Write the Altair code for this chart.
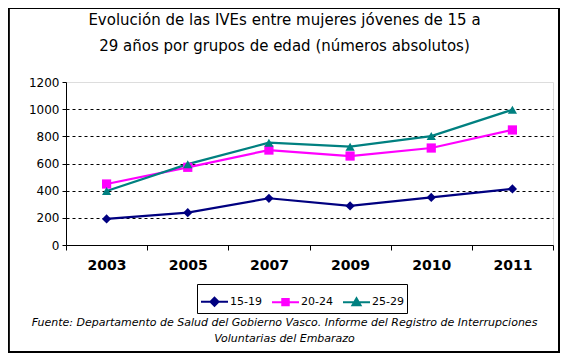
import altair as alt
import pandas as pd

years = ["2003", "2005", "2007", "2009", "2010", "2011"]
groups = ["15-19", "20-24", "25-29"]
v_15_19 = [192, 238, 344, 288, 350, 413]
v_20_24 = [449, 572, 699, 655, 714, 847]
v_25_29 = [398, 595, 753, 724, 802, 996]
colors = ["#000080", "#FF00FF", "#008080"]
shapes = ["diamond", "square", "triangle-up"]
y_ticks = [0, 200, 400, 600, 800, 1000, 1200]

title_lines = ["Evolución de las IVEs entre mujeres jóvenes de 15 a",
               "29 años por grupos de edad (números absolutos)"]
source_lines = ["Fuente: Departamento de Salud del Gobierno Vasco. Informe del Registro de Interrupciones",
                "Voluntarias del Embarazo"]

rows = []
for i, (g, vals) in enumerate(zip(groups, [v_15_19, v_20_24, v_25_29])):
    for yr, v in zip(years, vals):
        rows.append({"Año": yr, "Grupo": g, "Serie": i, "IVEs": v})
df = pd.DataFrame(rows)

legend_paths = [
    "M-1,0L1,0M0,-0.3L0.3,0L0,0.3L-0.3,0Z",
    "M-1,0L1,0M-0.24,-0.24L0.24,-0.24L0.24,0.24L-0.24,0.24Z",
    "M-1,0L1,0M0,-0.28L0.3,0.24L-0.3,0.24Z",
]
shape_expr = (f"datum.value === '{groups[0]}' ? '{legend_paths[0]}' : "
              f"datum.value === '{groups[1]}' ? '{legend_paths[1]}' : '{legend_paths[2]}'")
fill_expr = (f"datum.value === '{groups[0]}' ? '{colors[0]}' : "
             f"datum.value === '{groups[1]}' ? '{colors[1]}' : '{colors[2]}'")

legend = alt.Legend(
    title=None, orient="none", direction="horizontal", legendX=131, legendY=202,
    strokeColor="black", fillColor="white", padding=3, columnPadding=6,
    labelFont="DejaVu Sans", labelFontSize=11, labelColor="black", labelOffset=1,
    symbolSize=729, symbolStrokeWidth=2, symbolOpacity=1,
    symbolType=alt.ExprRef(shape_expr),
    symbolFillColor=alt.ExprRef(fill_expr),
)

x_enc = alt.X("Año:O", sort=years,
              scale=alt.Scale(type="band", paddingInner=0, paddingOuter=0),
              axis=alt.Axis(tickBand="extent", labelAngle=0, labelFont="DejaVu Sans",
                            labelFontSize=14, labelFontWeight="bold", labelColor="black",
                            labelPadding=8, domainColor="black", tickColor="black",
                            tickSize=5, grid=False,
                            title=source_lines, titleFont="DejaVu Sans", titleFontSize=11,
                            titleFontStyle="italic", titleFontWeight="normal",
                            titleColor="black", titleX=218, titleY=80,
                            titleAlign="center", titleBaseline="alphabetic",
                            titleLineHeight=16))
y_enc = alt.Y("IVEs:Q", scale=alt.Scale(domain=[0, 1200], nice=False),
              axis=alt.Axis(values=y_ticks, format="d", title=None, labelFont="DejaVu Sans",
                            labelFontSize=12, labelColor="black", labelPadding=3,
                            domainColor="black", tickColor="black", tickSize=4,
                            grid=True, gridColor="black", gridDash=[3, 3], gridWidth=1,
                            gridOpacity={"condition": {"test": "datum.value >= 1200 || datum.value <= 0", "value": 0}, "value": 1}))
color_scale = alt.Scale(domain=groups, range=colors)

lines = alt.Chart(df).mark_line(strokeWidth=2.2).encode(
    x=x_enc, y=y_enc,
    color=alt.Color("Grupo:N", scale=color_scale, legend=legend),
)
points = alt.Chart(df).mark_point(filled=True, opacity=1, size=85).encode(
    x=x_enc, y=y_enc,
    fill=alt.Fill("Serie:N", scale=alt.Scale(domain=[0, 1, 2], range=colors), legend=None),
    shape=alt.Shape("Serie:N", scale=alt.Scale(domain=[0, 1, 2], range=shapes), legend=None),
)
frame = alt.Chart(df).mark_rect(fill=None, stroke="black", strokeWidth=1.2, clip=False).encode(
    x=alt.value(-57.5), x2=alt.value(493), y=alt.value(-73.5), y2=alt.value(270)
)

chart = alt.layer(lines, points, frame).properties(
    width=487, height=163,
    title=alt.TitleParams(title_lines, font="DejaVu Sans", fontSize=15, fontWeight="normal",
                          color="black", anchor="middle", dx=-25, offset=-61,
                          baseline="bottom", lineHeight=26),
    autosize=alt.AutoSizeParams(type="none"),
    padding={"left": 58, "top": 74, "right": 7, "bottom": 108},
).configure_view(fill="#CCCCFF", stroke=None).configure(background="white")

chart.save("out.html", embed_options={"renderer": "svg", "actions": False})
